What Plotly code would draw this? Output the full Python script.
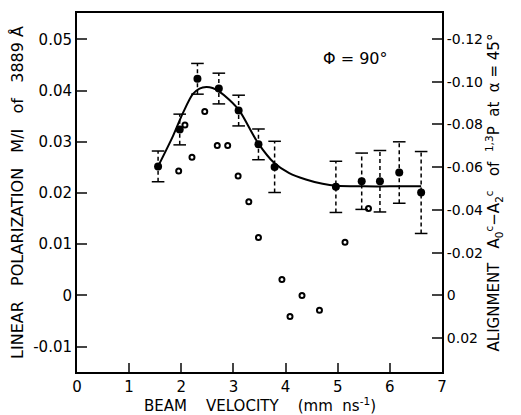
import plotly.graph_objects as go

# Filled points (with error bars) – linear polarization M/I
vel_filled = [1.555, 1.97, 2.31, 2.72, 3.10, 3.48, 3.79, 4.965, 5.46, 5.81, 6.18, 6.60]
pol_filled = [0.0252, 0.0324, 0.0423, 0.0404, 0.0361, 0.0295, 0.0251, 0.0212, 0.0223, 0.0223, 0.0240, 0.0201]
pol_err = [0.003, 0.003, 0.003, 0.003, 0.003, 0.003, 0.005, 0.005, 0.0055, 0.006, 0.006, 0.008]

# Open points
vel_open = [1.95, 2.07, 2.205, 2.45, 2.69, 2.89, 3.09, 3.295, 3.48, 3.93, 4.085, 4.315, 4.65, 5.14, 5.59]
pol_open = [0.0243, 0.0333, 0.0270, 0.0359, 0.0293, 0.0293, 0.0233, 0.0183, 0.0113, 0.0031, -0.0041, 0.0000, -0.0029, 0.0104, 0.0170]

# Smooth fitted curve
curve_x = [1.555, 1.84, 2.03, 2.22, 2.35, 2.48, 2.60, 2.73, 2.92, 3.12, 3.47, 3.79, 4.07, 4.39, 4.71, 4.97, 5.5, 6.0, 6.6]
curve_y = [0.0252, 0.0311, 0.0356, 0.0393, 0.0404, 0.0407, 0.0405, 0.0398, 0.0382, 0.0360, 0.0298, 0.0258, 0.0239, 0.02265, 0.0218, 0.0214, 0.0213, 0.0213, 0.0213]

# Tick labels
x_ticks = [0, 1, 2, 3, 4, 5, 6, 7]
y_ticks = [0.05, 0.04, 0.03, 0.02, 0.01, 0, -0.01]
y_ticktext = ["0.05", "0.04", "0.03", "0.02", "0.01", "0", "-0.01"]
y2_ticks = [-0.12, -0.10, -0.08, -0.06, -0.04, -0.02, 0, 0.02]
y2_ticktext = ["-0.12", "-0.10", "-0.08", "-0.06", "-0.04", "-0.02", "0", "0.02"]

FONT = "DejaVu Sans"
NB = "\u00a0"

# error bar segments built from the data
ex, ey, cx, cy = [], [], [], []
for x, y, e in zip(vel_filled, pol_filled, pol_err):
    ex += [x, x, None]
    ey += [y - e, y + e, None]
    cx += [x, x]
    cy += [y - e, y + e]

fig = go.Figure()
fig.add_trace(go.Scatter(x=ex, y=ey, mode="lines",
                         line=dict(color="black", width=1.5, dash="4px,3px"),
                         hoverinfo="skip", showlegend=False))
fig.add_trace(go.Scatter(x=cx, y=cy, mode="markers",
                         marker=dict(symbol="line-ew", size=9, line=dict(color="black", width=1.5)),
                         hoverinfo="skip", showlegend=False))
fig.add_trace(go.Scatter(x=curve_x, y=curve_y, mode="lines",
                         line=dict(color="black", width=2, shape="spline", smoothing=0.8),
                         showlegend=False))
fig.add_trace(go.Scatter(x=vel_filled, y=pol_filled, mode="markers",
                         marker=dict(symbol="circle", size=8, color="black"),
                         showlegend=False))
fig.add_trace(go.Scatter(x=vel_open, y=pol_open, mode="markers",
                         marker=dict(symbol="circle-open", size=5, color="black", line=dict(width=2)),
                         showlegend=False))
# invisible trace to activate right axis
fig.add_trace(go.Scatter(x=[None], y=[None], yaxis="y2", showlegend=False))

left_range = [-0.01495, 0.05515]
right_range = [-left_range[0] * 5150 / 2150, -left_range[1] * 5150 / 2150]

fig.update_layout(
    width=521, height=415,
    margin=dict(l=77, r=79, t=11, b=43),
    paper_bgcolor="white", plot_bgcolor="white",
    font=dict(family=FONT, size=14, color="black"),
    xaxis=dict(range=[0, 7], tickvals=x_ticks, ticks="inside", ticklen=9, tickwidth=2,
               showline=True, linewidth=2, linecolor="black", mirror=True,
               showgrid=False, zeroline=False, tickfont=dict(size=15)),
    yaxis=dict(range=left_range, tickvals=y_ticks, ticktext=y_ticktext,
               ticks="inside", ticklen=10, tickwidth=2,
               showline=True, linewidth=2, linecolor="black",
               showgrid=False, zeroline=False, tickfont=dict(size=15),
               title=dict(text=f"LINEAR{NB*3}POLARIZATION{NB*3}M/I{NB*3}of{NB*3}3889 Å",
                          font=dict(size=16), standoff=6)),
    yaxis2=dict(range=right_range, overlaying="y", side="right",
                tickvals=y2_ticks, ticktext=y2_ticktext,
                ticks="inside", ticklen=10, tickwidth=2,
                showline=True, linewidth=2, linecolor="black",
                showgrid=False, zeroline=False, tickfont=dict(size=14),
                title=dict(text=f"ALIGNMENT{NB*3}A<sub>0</sub><sup>c</sup>−A<sub>2</sub><sup>c</sup>{NB*3}of{NB*2}<sup>1,3</sup>P{NB*2}at{NB*2}α = 45°",
                           font=dict(size=15), standoff=3)),
    annotations=[
        dict(x=5.35, y=0.0463, xref="x", yref="y", text="Φ = 90°",
             showarrow=False, font=dict(size=16)),
        dict(x=0.5, y=-0.092, xref="paper", yref="paper", yanchor="middle",
             text=f"BEAM{NB*4}VELOCITY{NB*4}(mm{NB*2}ns<sup>-1</sup>)",
             showarrow=False, font=dict(size=15)),
    ],
)

fig.write_html("out.html", config={"displayModeBar": False},
               post_script="document.body.style.margin='0';document.body.style.overflow='hidden';")
